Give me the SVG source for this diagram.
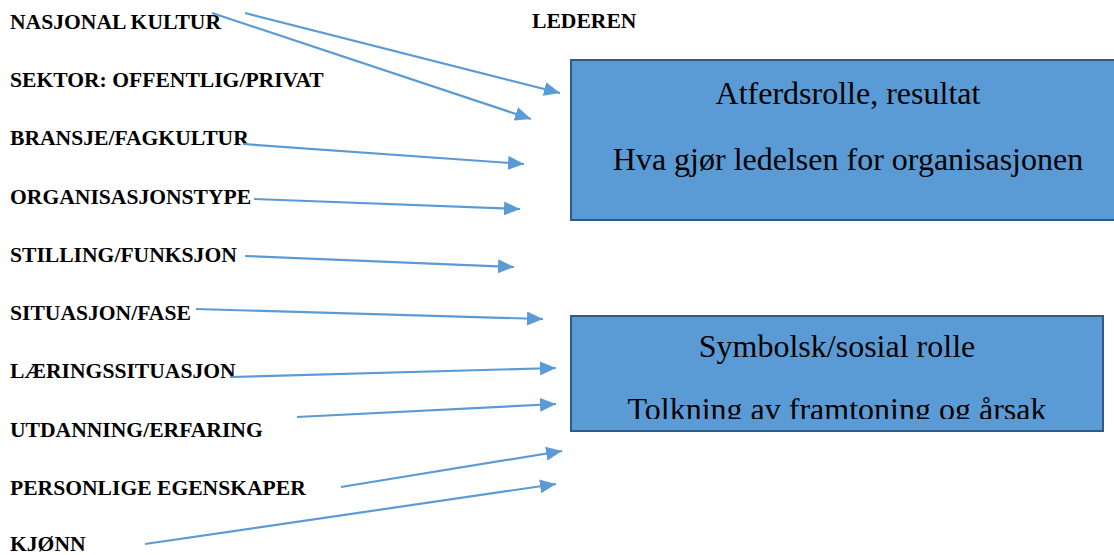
<svg xmlns="http://www.w3.org/2000/svg" width="1114" height="555" viewBox="0 0 1114 555">
  <style>
    .label { font-family: "Liberation Serif", "Times New Roman", serif; font-weight: bold; font-size: 21.6px; fill: #000; }
    .box { fill: #5b9bd5; stroke: #2f5a87; stroke-width: 2; }
    .boxtext { font-family: "Liberation Serif", "Times New Roman", serif; font-size: 32px; fill: #000; text-anchor: middle; }
    .conn { stroke: #5b9bd5; stroke-width: 2.2; fill: none; marker-end: url(#arrow); }
  </style>
  <defs>
    <marker id="arrow" markerUnits="userSpaceOnUse" markerWidth="16" markerHeight="14" viewBox="0 0 16 14" refX="16" refY="7" orient="auto">
      <path d="M0,0 L16,7 L0,14 Z" fill="#5b9bd5"/>
    </marker>
    <clipPath id="clip-social">
      <rect x="572" y="317" width="530" height="102"/>
    </clipPath>
  </defs>
  <rect width="1114" height="555" fill="#fff"/>

  <!-- factor labels -->
  <g id="nasjonal-kultur"><text class="label" x="10" y="29">NASJONAL KULTUR</text></g>
  <g id="lederen"><text class="label" x="532" y="28">LEDEREN</text></g>
  <g id="sektor"><text class="label" x="10" y="87">SEKTOR: OFFENTLIG/PRIVAT</text></g>
  <g id="bransje"><text class="label" x="10" y="145">BRANSJE/FAGKULTUR</text></g>
  <g id="organisasjonstype"><text class="label" x="10" y="204">ORGANISASJONSTYPE</text></g>
  <g id="stilling"><text class="label" x="10" y="262">STILLING/FUNKSJON</text></g>
  <g id="situasjon"><text class="label" x="10" y="320">SITUASJON/FASE</text></g>
  <g id="laeringssituasjon"><text class="label" x="10" y="378">LÆRINGSSITUASJON</text></g>
  <g id="utdanning"><text class="label" x="10" y="437">UTDANNING/ERFARING</text></g>
  <g id="personlige"><text class="label" x="10" y="495">PERSONLIGE EGENSKAPER</text></g>
  <g id="kjonn"><text class="label" x="10" y="551">KJØNN</text></g>

  <!-- role boxes -->
  <g id="atferdsrolle">
    <rect class="box" x="571" y="60" width="560" height="160"/>
    <text class="boxtext" x="848" y="104">Atferdsrolle, resultat</text>
    <text class="boxtext" x="848" y="170">Hva gjør ledelsen for organisasjonen</text>
  </g>
  <g id="symbolsk-rolle">
    <rect class="box" x="571" y="316" width="532" height="115"/>
    <g clip-path="url(#clip-social)">
      <text class="boxtext" x="837" y="357">Symbolsk/sosial rolle</text>
      <text class="boxtext" x="837" y="420">Tolkning av framtoning og årsak</text>
    </g>
  </g>

  <!-- connectors -->
  <g id="connectors">
    <line class="conn" x1="245" y1="13" x2="560" y2="93"/>
    <line class="conn" x1="212" y1="13" x2="531" y2="119"/>
    <line class="conn" x1="243" y1="144" x2="524" y2="164"/>
    <line class="conn" x1="254" y1="199" x2="520" y2="209"/>
    <line class="conn" x1="245" y1="256" x2="514" y2="267"/>
    <line class="conn" x1="196" y1="309" x2="543" y2="319"/>
    <line class="conn" x1="230" y1="377" x2="556" y2="368"/>
    <line class="conn" x1="297" y1="417" x2="556" y2="404"/>
    <line class="conn" x1="341" y1="487" x2="562" y2="451"/>
    <line class="conn" x1="145" y1="544" x2="556" y2="484"/>
  </g>
</svg>
